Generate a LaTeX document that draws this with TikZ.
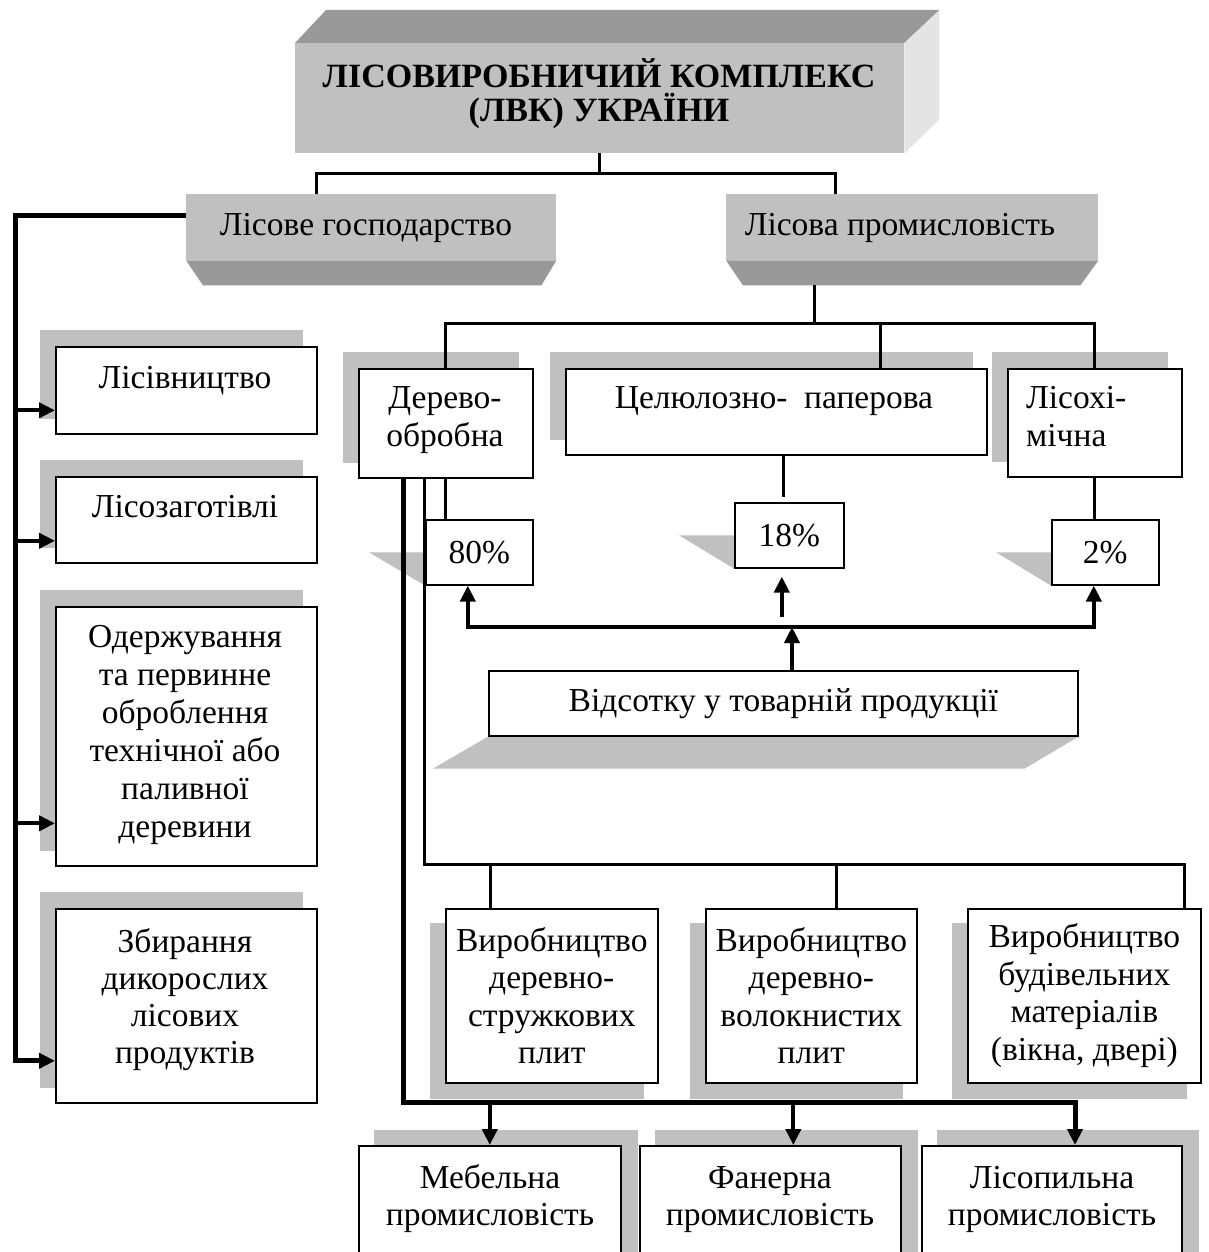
\documentclass[tikz,border=0pt]{standalone}
\usepackage{fontspec}
\setmainfont{Liberation Serif}
\usetikzlibrary{arrows.meta,backgrounds}
\definecolor{shd}{HTML}{C0C0C0}
\definecolor{dk}{HTML}{999999}
\definecolor{lt}{HTML}{E4E4E4}
\newcommand\shbox[3]{\fill[shd] ([xshift=#2,yshift=#3]#1.north west) rectangle ([xshift=#2,yshift=#3]#1.south east);}
\begin{document}
\begin{tikzpicture}[x=1pt,y=-1pt,
  box/.style={draw=black, fill=white, line width=1.6pt, inner sep=0pt, anchor=north west,
              align=center, font=\fontsize{33.5}{37.5}\selectfont},
  txt/.style={font=\fontsize{33.5}{37.5}\selectfont, align=center, inner sep=0pt, anchor=base},
  gbox/.style={fill=shd, inner sep=0pt, anchor=north west},
  conn/.style={line width=3pt},
  rail/.style={line width=5pt},
  tip/.style={-{Triangle[width=15pt,length=16pt]}},
  arr/.style={line width=4pt, tip},
]
\path[use as bounding box] (0,0) rectangle (1208,1252);
\clip (0,0) rectangle (1208,1252);

% ---- top level boxes (multi-line text nodes: coordinate = last baseline)
\node[gbox, minimum width=609, minimum height=110] (title) at (295,43) {};
\node[txt, font=\fontsize{34}{34}\selectfont\bfseries] (ttl) at (599,122) {ЛІСОВИРОБНИЧИЙ КОМПЛЕКС\\(ЛВК) УКРАЇНИ};
\node[gbox, minimum width=370, minimum height=66] (lg) at (186,194) {};
\node[txt] (tlg) at (366,235) {Лісове господарство};
\node[gbox, minimum width=372, minimum height=66] (lp) at (726,194) {};
\node[txt] (tlp) at (900,235) {Лісова промисловість};

% ---- left column
\node[box, minimum width=261, minimum height=87] (lsv) at (55,346) {};
\node[txt] (tlsv) at (185,388) {Лісівництво};
\node[box, minimum width=261, minimum height=86] (lzg) at (55,476) {};
\node[txt] (tlzg) at (185,517) {Лісозаготівлі};
\node[box, minimum width=261, minimum height=259] (odr) at (55,606) {};
\node[txt, font=\fontsize{33.5}{38}\selectfont] (todr) at (185,837) {Одержування\\та первинне\\оброблення\\технічної або\\паливної\\деревини};
\node[box, minimum width=261, minimum height=194] (zbr) at (55,908) {};
\node[txt, font=\fontsize{33.5}{37}\selectfont] (tzbr) at (185,1063) {Збирання\\дикорослих\\лісових\\продуктів};

% ---- branches
\node[box, minimum width=174, minimum height=109] (der) at (358,368) {};
\node[txt, font=\fontsize{33.5}{38}\selectfont] (tder) at (445,446) {Дерево-\\обробна};
\node[box, minimum width=421, minimum height=86] (cel) at (565,368) {};
\node[txt] (tcel) at (774,408) {Целюлозно-\ \ паперова};
\node[box, minimum width=174, minimum height=108] (lkh) at (1007,368) {};
\node[txt, font=\fontsize{33.5}{38}\selectfont, anchor=base west, align=left] (tlkh) at (1026,446) {Лісохі-\\мічна};

% ---- percentages
\node[box, minimum width=107, minimum height=65] (p80) at (425,519) {80\%};
\node[box, minimum width=109, minimum height=65] (p18) at (734,502) {18\%};
\node[box, minimum width=107, minimum height=65] (p2) at (1051,519) {2\%};
\node[box, minimum width=589, minimum height=65] (vid) at (488,670) {Відсотку у товарній продукції};

% ---- production
\node[box, minimum width=212, minimum height=174] (v1) at (445,908) {Виробництво\\деревно-\\стружкових\\плит};
\node[box, minimum width=211, minimum height=174] (v2) at (705,908) {Виробництво\\деревно-\\волокнистих\\плит};
\node[box, minimum width=233, minimum height=174] (v3) at (967,908) {Виробництво\\будівельних\\матеріалів\\(вікна, двері)};

% ---- bottom row
\node[box, minimum width=262, minimum height=140] (m1) at (358,1145) {};
\node[txt, font=\fontsize{33.5}{37}\selectfont] (tm1) at (490,1225) {Мебельна\\промисловість};
\node[box, minimum width=261, minimum height=140] (m2) at (639,1145) {};
\node[txt, font=\fontsize{33.5}{37}\selectfont] (tm2) at (770,1225) {Фанерна\\промисловість};
\node[box, minimum width=260, minimum height=140] (m3) at (921,1145) {};
\node[txt, font=\fontsize{33.5}{37}\selectfont] (tm3) at (1052,1225) {Лісопильна\\промисловість};

% ---- coordinates
\coordinate (ja) at (599,174);
\coordinate (rx) at (15,0);
\coordinate (lpb) at (814,285);
\coordinate (jc) at (814,323);
\coordinate (jd) at (792,627);
\coordinate (je) at (1184,864);
\coordinate (jf) at (1075,1102);

% ---- connectors
\draw[conn] (title.south) -- (title.south |- ja);
\draw[conn] ([xshift=130pt]lg.north west) -- ++(0,-20) -| ([xshift=109pt]lp.north west);
\draw[rail, tip] ([yshift=12pt]lg.west) -| ([yshift=-55pt]zbr.west -| rx) -- ([yshift=-55pt]zbr.west);
\draw[arr] ([yshift=-20pt]lsv.west -| rx) -- ([yshift=-20pt]lsv.west);
\draw[arr] ([yshift=-21pt]lzg.west -| rx) -- ([yshift=-21pt]lzg.west);
\draw[arr] ([yshift=-87pt]odr.west -| rx) -- ([yshift=-87pt]odr.west);

\draw[conn] (lpb) -- (jc);
\draw[conn] (der.north) -- ++(0,-45) -| (lkh.north);
\draw[conn] ([xshift=104pt]cel.north) -- ([xshift=104pt]cel.north |- jc);
\draw[conn] (der.south) -- (der.south |- p80.north);
\draw[conn] (lkh.south) -- (lkh.south |- p2.north);
\draw[conn] ([xshift=7pt]cel.south) -- ([xshift=7pt,yshift=5pt]cel.south |- p18.north);

\draw[arr] (jd |- vid.north) -- (jd);
\draw[arr] (jd) -| ([xshift=-11.5pt]p80.south);
\draw[arr] (jd) -| ([xshift=-11.5pt]p2.south);
\draw[arr] ([xshift=-7.5pt,yshift=10pt]p18.south |- jd) -- ([xshift=-7.5pt,yshift=-8pt]p18.south);

\draw[conn] ([xshift=66pt]der.south west) |- (je) -- (je |- v3.north);
\draw[conn] ([xshift=-61pt]v1.north) -- ([xshift=-61pt]v1.north |- je);
\draw[conn] ([xshift=25.5pt]v2.north) -- ([xshift=25.5pt]v2.north |- je);

\draw[rail, tip] ([xshift=45pt]der.south west) |- (jf) -- (jf |- m3.north);
\draw[arr] (m1.north |- jf) -- (m1.north);
\draw[arr] ([xshift=23pt]m2.north |- jf) -- ([xshift=23pt]m2.north);

% ---- background: shadows and 3D faces
\begin{pgfonlayer}{background}
\clip (0,0) rectangle (1208,1252);
\fill[white] (0,0) rectangle (1208,1252);
\fill[dk] (title.north west) -- ([xshift=31pt,yshift=33pt]title.north west) -- ([xshift=35pt,yshift=33pt]title.north east) -- (title.north east) -- cycle;
\fill[lt] (title.north east) -- ([xshift=35pt,yshift=33pt]title.north east) -- ([xshift=35pt,yshift=34pt]title.south east) -- (title.south east) -- cycle;
\fill[dk] (lg.south west) -- (lg.south east) -- ([xshift=-15pt,yshift=-25pt]lg.south east) -- ([xshift=17pt,yshift=-25pt]lg.south west) -- cycle;
\fill[dk] (lp.south west) -- (lp.south east) -- ([xshift=-18pt,yshift=-25pt]lp.south east) -- ([xshift=17pt,yshift=-25pt]lp.south west) -- cycle;
\shbox{lsv}{-15pt}{16pt}
\shbox{lzg}{-15pt}{16pt}
\shbox{odr}{-15pt}{16pt}
\shbox{zbr}{-15pt}{16pt}
\shbox{der}{-15pt}{16pt}
\shbox{cel}{-15pt}{16pt}
\shbox{lkh}{-15pt}{16pt}
\shbox{v1}{-15pt}{-15pt}
\shbox{v2}{-15pt}{-15pt}
\shbox{v3}{-15pt}{-15pt}
\shbox{m1}{16pt}{15pt}
\shbox{m2}{16pt}{15pt}
\shbox{m3}{16pt}{15pt}
\fill[shd] ([xshift=-56pt]p80.west) -- (p80.west) -- (p80.south west) -- cycle;
\fill[shd] ([xshift=-55pt]p18.west) -- (p18.west) -- (p18.south west) -- cycle;
\fill[shd] ([xshift=-55pt]p2.west) -- (p2.west) -- (p2.south west) -- cycle;
\fill[shd] (vid.south west) -- (vid.south east) -- ([xshift=-54pt,yshift=-32pt]vid.south east) -- ([xshift=-55pt,yshift=-32pt]vid.south west) -- cycle;
\end{pgfonlayer}
\end{tikzpicture}
\end{document}
